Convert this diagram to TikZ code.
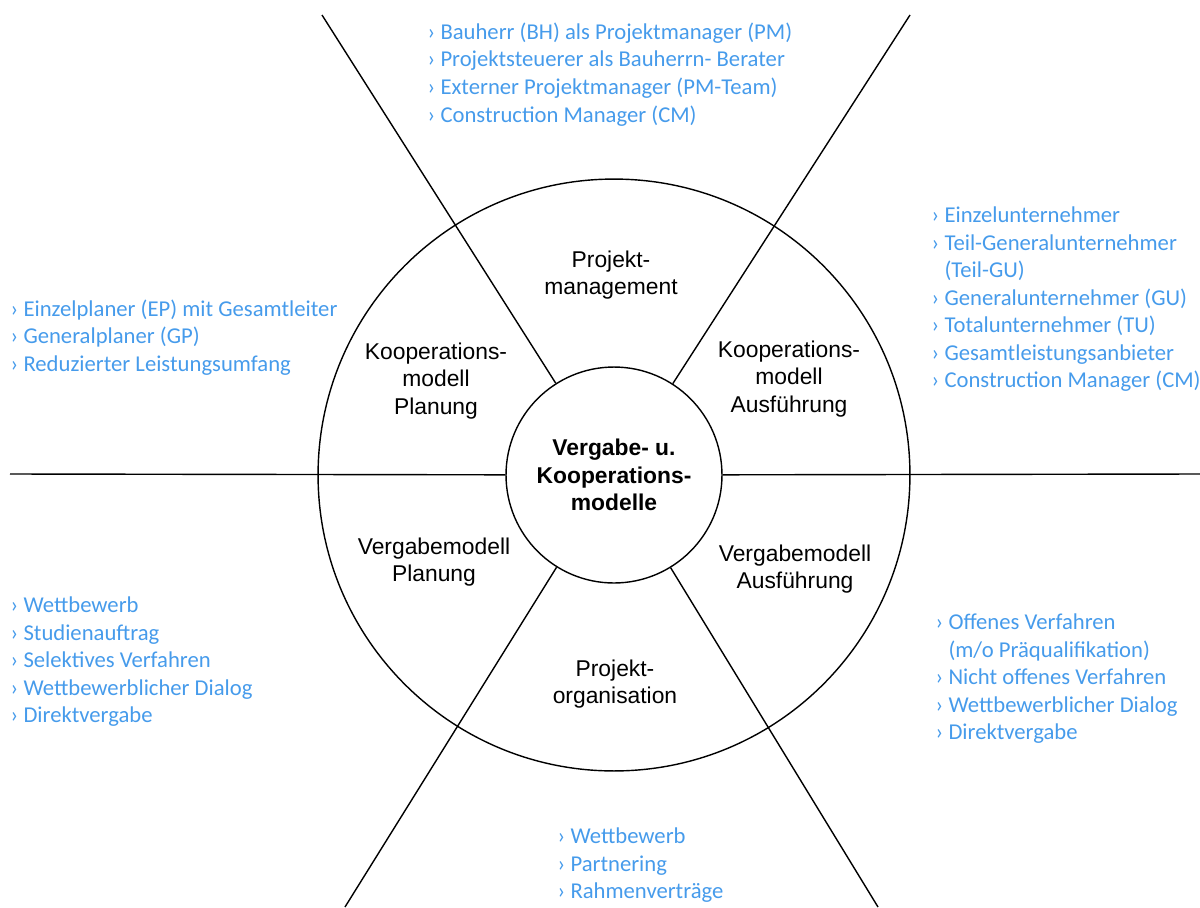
\documentclass[tikz,border=0pt]{standalone}
\usepackage{fontspec}
\setmainfont{Liberation Sans}
\newfontfamily\listfont{Carlito}
\definecolor{listblue}{RGB}{70,155,235}
\newcommand{\bul}{›\ }
\newcommand{\hng}{\phantom{›\ }}
\tikzset{
    sector/.style={align=center, inner sep=0pt, font=\fontsize{13}{15.8}\selectfont},
    items/.style={align=left, anchor=north west, inner sep=0pt, text=listblue,
        font=\listfont\fontsize{12.9}{15.7}\selectfont},
}
\begin{document}
\begin{tikzpicture}[x=0.02cm, y=-0.02cm, line width=0.8pt]
    \useasboundingbox (0,0) rectangle (1200,907);

    \node (ring) at (614,475) [circle, draw, minimum size=11.84cm, inner sep=0pt] {};
    \node (core) at (614,475) [circle, draw, minimum size=4.32cm, inner sep=0pt,
        align=center, font=\bfseries\fontsize{13}{15.8}\selectfont]
        {Vergabe- u.\\Kooperations-\\modelle};

    \coordinate (tl) at (322,15);
    \coordinate (tr) at (910,15);
    \coordinate (le) at (10,474);
    \coordinate (ri) at (1200,474);
    \coordinate (bl) at (345,907);
    \coordinate (br) at (878,907);

    \path [-] (core) edge (tl);
    \path [-] (core) edge (tr);
    \path [-] (core) edge (le);
    \path [-] (core) edge (ri);
    \path [-] (core) edge (bl);
    \path [-] (core) edge (br);

    \node (pm) at (611,275) [sector] {Projekt-\\management};
    \node (kp) at (436,381) [sector] {Kooperations-\\modell\\Planung};
    \node (ka) at (789,379) [sector] {Kooperations-\\modell\\Ausführung};
    \node (vp) at (434,562) [sector] {Vergabemodell\\Planung};
    \node (va) at (795,569) [sector] {Vergabemodell\\Ausführung};
    \node (po) at (615,684) [sector] {Projekt-\\organisation};

    \node (pmlist) at (427,22) [items] {\bul Bauherr (BH) als Projektmanager (PM)\\
        \bul Projektsteuerer als Bauherrn- Berater\\
        \bul Externer Projektmanager (PM-Team)\\
        \bul Construction Manager (CM)};
    \node (kalist) at (931,206) [items] {\bul Einzelunternehmer\\
        \bul Teil-Generalunternehmer\\
        \hng(Teil-GU)\\
        \bul Generalunternehmer (GU)\\
        \bul Totalunternehmer (TU)\\
        \bul Gesamtleistungsanbieter\\
        \bul Construction Manager (CM)};
    \node (kplist) at (10,299) [items] {\bul Einzelplaner (EP) mit Gesamtleiter\\
        \bul Generalplaner (GP)\\
        \bul Reduzierter Leistungsumfang};
    \node (vplist) at (10,596) [items] {\bul Wettbewerb\\
        \bul Studienauftrag\\
        \bul Selektives Verfahren\\
        \bul Wettbewerblicher Dialog\\
        \bul Direktvergabe};
    \node (valist) at (935,613) [items] {\bul Offenes Verfahren\\
        \hng(m/o Präqualifikation)\\
        \bul Nicht offenes Verfahren\\
        \bul Wettbewerblicher Dialog\\
        \bul Direktvergabe};
    \node (polist) at (557,827) [items] {\bul Wettbewerb\\
        \bul Partnering\\
        \bul Rahmenverträge};
\end{tikzpicture}
\end{document}
